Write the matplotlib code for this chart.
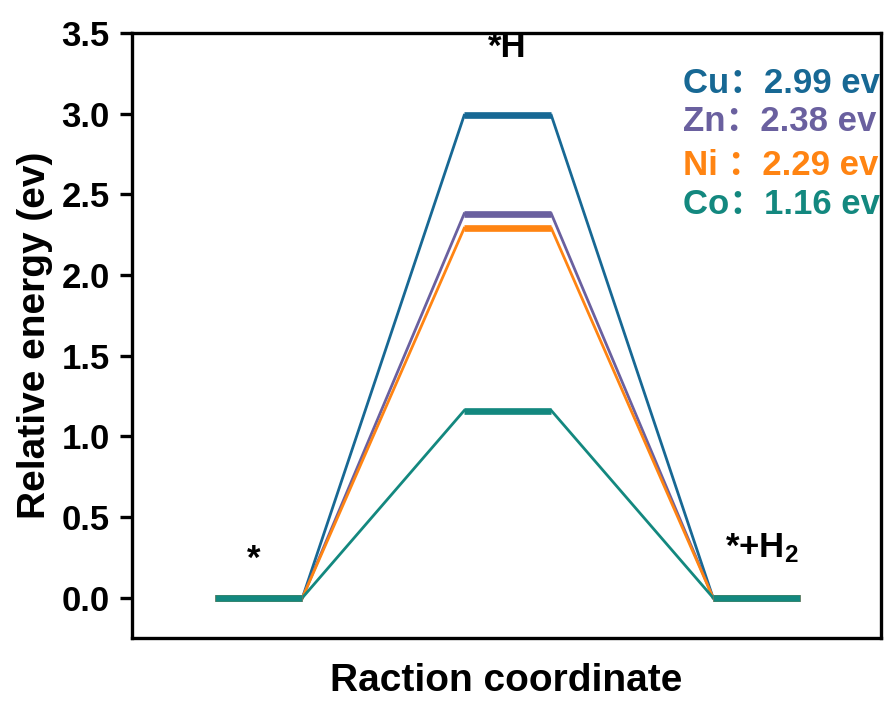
import matplotlib
matplotlib.use("Agg")
import matplotlib.pyplot as plt

# Reaction steps and relative energies (eV)
steps = ["*", "*H", "*+H$_2$"]
metals = ["Cu", "Zn", "Ni", "Co"]
h_energy = [2.99, 2.38, 2.29, 1.16]
start_energy = [0.0, 0.0, 0.0, 0.0]
end_energy = [0.0, 0.0, 0.0, 0.0]
colors = ["#176894", "#6a609f", "#ff8412", "#13887f"]
label_texts = ["Cu：2.99 ev", "Zn：2.38 ev", "Ni ：2.29 ev", "Co：1.16 ev"]
yticks = [0.0, 0.5, 1.0, 1.5, 2.0, 2.5, 3.0, 3.5]

fam = ["Liberation Sans", "Noto Sans CJK SC", "DejaVu Sans"]
plt.rcParams["font.family"] = fam
plt.rcParams["font.weight"] = "bold"
plt.rcParams["mathtext.fontset"] = "custom"
plt.rcParams["mathtext.rm"] = "Liberation Sans:bold"
plt.rcParams["mathtext.it"] = "Liberation Sans:bold"
plt.rcParams["mathtext.bf"] = "Liberation Sans:bold"

W, H = 885, 702
fig = plt.figure(figsize=(W / 100, H / 100), dpi=100)
ax = fig.add_axes([132 / W, (H - 638) / H, 749 / W, 605 / H])

pos = [1, 2, 3]
hw = 0.175  # half width of each energy level

for m, e0, e1, e2, c in zip(metals, start_energy, h_energy, end_energy, colors):
    levels = [e0, e1, e2]
    for x, e in zip(pos, levels):
        ax.plot([x - hw, x + hw], [e, e], color=c, lw=4.8, solid_capstyle="butt", zorder=3)
    for i in range(2):
        ax.plot([pos[i] + hw, pos[i + 1] - hw], [levels[i], levels[i + 1]],
                color=c, lw=2.0, zorder=2)

# Step labels
ax.text(pos[0] - 0.02, 0.24, steps[0], ha="center", va="center", fontsize=25, fontweight="bold")
ax.text(pos[1], 3.41, steps[1], ha="center", va="center", fontsize=25, fontweight="bold")
ax.text(pos[2] + 0.02, 0.31, steps[2], ha="center", va="center", fontsize=25, fontweight="bold")

# Energy barrier annotations
ytxt = [3.19, 2.95, 2.68, 2.44]
trans = ax.get_yaxis_transform()
for txt, c, y in zip(label_texts, colors, ytxt):
    ax.text(0.7357, y, txt, transform=trans, ha="left", va="center",
            fontsize=25, fontweight="bold", color=c, family=fam)

ax.set_xlim(0.49, 3.5)
ax.set_ylim(-0.25, 3.5)
ax.set_xticks([])
ax.set_yticks(yticks)
ax.set_yticklabels([f"{v:.1f}" for v in yticks])
ax.tick_params(axis="y", direction="out", length=9, width=2.4, labelsize=25, pad=7)
for lab in ax.get_yticklabels():
    lab.set_fontweight("bold")
for s in ax.spines.values():
    s.set_linewidth(2.4)

ax.set_ylabel("Relative energy (ev)", fontsize=28, fontweight="bold", labelpad=6)
ax.set_xlabel("Raction coordinate", fontsize=28, fontweight="bold", labelpad=18)

fig.savefig("out.png", dpi=100)
